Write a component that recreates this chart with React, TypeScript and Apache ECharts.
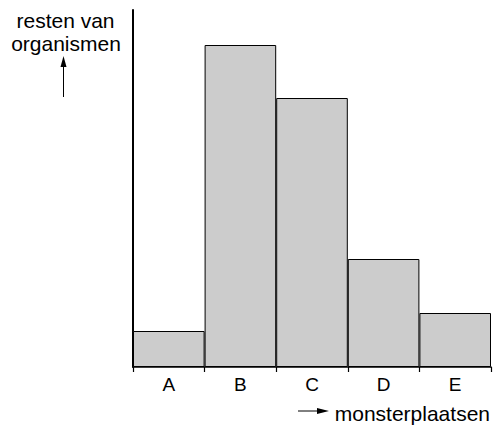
import React, { useEffect, useRef } from "react";
import * as echarts from "echarts";

const categories = ["A", "B", "C", "D", "E"];
const values = [36, 322, 269, 108, 54];
const yMax = 357;
const yLabelLines = ["resten van", "organismen"];
const xLabel = "monsterplaatsen";

export default function App() {
  const ref = useRef<HTMLDivElement>(null);
  useEffect(() => {
    if (!ref.current) return;
    const chart = echarts.init(ref.current, null, { renderer: "svg" });
    const font = "Liberation Sans";
    const txt = (x: number, y: number, text: string, align: string, size = 21) => ({
      type: "text",
      x,
      y,
      style: {
        text,
        fill: "#000",
        fontSize: size,
        fontFamily: font,
        align,
        verticalAlign: "middle",
      },
    });
    chart.setOption({
      animation: false,
      grid: { left: 133, right: 3, top: 10, bottom: 58 },
      xAxis: {
        type: "category",
        data: categories,
        boundaryGap: true,
        axisLine: { lineStyle: { color: "#000", width: 1.5 } },
        axisTick: { show: true, length: 5, lineStyle: { color: "#000", width: 1.2 } },
        axisLabel: { color: "#000", fontSize: 19, fontFamily: font, margin: 8 },
      },
      yAxis: {
        type: "value",
        min: 0,
        max: yMax,
        axisLine: { show: true, lineStyle: { color: "#000", width: 2 } },
        axisTick: { show: false },
        axisLabel: { show: false },
        splitLine: { show: false },
      },
      series: [
        {
          type: "bar",
          data: values,
          barCategoryGap: "0%",
          itemStyle: { color: "#cccccc", borderColor: "#000", borderWidth: 1 },
        },
      ],
      graphic: [
        txt(65.5, 20, yLabelLines[0], "center"),
        txt(66, 43, yLabelLines[1], "center"),
        {
          type: "line",
          shape: { x1: 63.5, y1: 97, x2: 63.5, y2: 64 },
          style: { stroke: "#000", lineWidth: 1 },
        },
        {
          type: "polygon",
          shape: { points: [[63.5, 56], [60.5, 67], [66.5, 67]] },
          style: { fill: "#000" },
        },
        {
          type: "line",
          shape: { x1: 298, y1: 411, x2: 320, y2: 411 },
          style: { stroke: "#000", lineWidth: 1 },
        },
        {
          type: "polygon",
          shape: { points: [[329, 411], [317, 408], [317, 414]] },
          style: { fill: "#000" },
        },
        txt(490, 413, xLabel, "right"),
      ],
    });
    return () => chart.dispose();
  }, []);
  return <div ref={ref} style={{ width: 494, height: 425, position: "absolute", left: 0, top: 0 }} />;
}
